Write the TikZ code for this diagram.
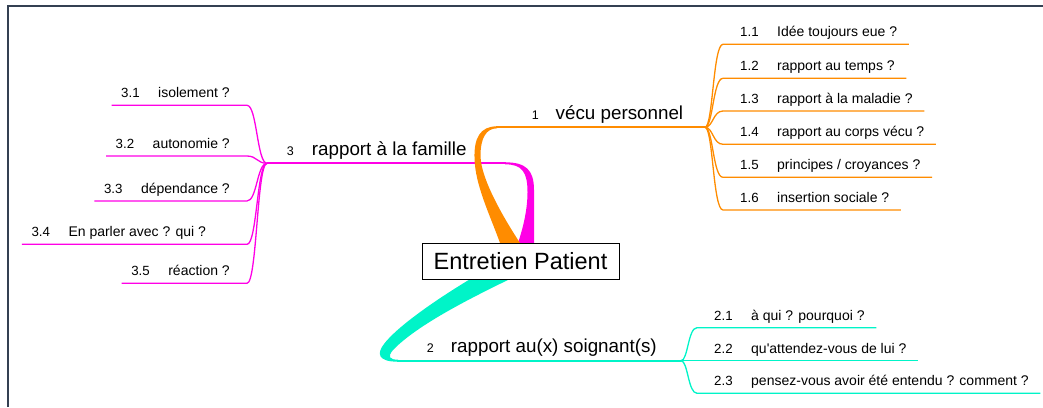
\documentclass[tikz,border=0pt]{standalone}
\usepackage{fontspec}
\setmainfont{Liberation Sans}
\usetikzlibrary{calc}

\definecolor{vecuorange}{RGB}{255,140,0}
\definecolor{famillepink}{RGB}{255,0,230}
\definecolor{soigneteal}{RGB}{0,244,200}
\definecolor{framegray}{RGB}{52,64,82}

\begin{document}
\begin{tikzpicture}[x=1pt, y=-1pt,
    rootbox/.style={draw=black, line width=0.9pt, fill=white, inner sep=0pt,
        minimum width=197pt, minimum height=36pt, font=\fontsize{23.5}{28}\selectfont},
    toplabel/.style={inner sep=0pt, anchor=base west, font=\fontsize{18.8}{22}\selectfont},
    topnum/.style={inner sep=0pt, anchor=base west, font=\fontsize{12.5}{15}\selectfont},
    leaflabel/.style={inner sep=0pt, font=\fontsize{14}{17}\selectfont},
    leafnum/.style={inner sep=0pt, anchor=base west, font=\fontsize{13.3}{16}\selectfont},
    mainline/.style={line width=2pt},
    leafline/.style={line width=1.3pt}]

    \useasboundingbox (0,0) rectangle (1043,407);

    % --- Frame (top and left edges only) ---
    \draw[framegray, line width=1.6pt] (8,407) -- (8,6) -- (1043,6);

    % =========================================================================
    % BRANCH 3: rapport a la famille (left, pink)
    % =========================================================================
    \coordinate (j3) at (267,163.3);
    \node[topnum] (b3num) at (286.7,155.3) {3};
    \node[toplabel] (b3) at (311.7,155.3) {rapport à la famille};
    \draw[famillepink, mainline] (j3) -- (506,163.3);
    \fill[famillepink] (518,243) .. controls (523,228) and (527.5,210) .. (527.5,192)
        .. controls (527.5,172) and (522,164.3) .. (505,164.3) -- (505,162.3)
        .. controls (526,162.3) and (534,170) .. (534,190) -- (534,243) -- cycle;

    % --- Leaves 3.x ---
    \node[leaflabel, anchor=base east] (c31) at (230,97.6) {isolement ?};
    \node[leafnum] (c31num) at ([xshift=-37pt]c31.base west) {3.1};
    \draw[famillepink, leafline] (j3) .. controls (257,163.3) and (257,105.3) .. (247,105.3) -- ([shift={(-9.5pt,-7.7pt)}]c31num.base west);

    \node[leaflabel, anchor=base east] (c32) at (230,148.3) {autonomie ?};
    \node[leafnum] (c32num) at ([xshift=-37pt]c32.base west) {3.2};
    \draw[famillepink, leafline] (j3) .. controls (257,163.3) and (257,156) .. (247,156) -- ([shift={(-9.5pt,-7.7pt)}]c32num.base west);

    \node[leaflabel, anchor=base east] (c33) at (230,193.3) {dépendance ?};
    \node[leafnum] (c33num) at ([xshift=-37pt]c33.base west) {3.3};
    \draw[famillepink, leafline] (j3) .. controls (257,163.3) and (257,201) .. (247,201) -- ([shift={(-9.5pt,-7.7pt)}]c33num.base west);

    \node[leaflabel, anchor=base west] (c34) at (68.3,236.6) {En parler avec ? qui ?};
    \node[leafnum] (c34num) at ([xshift=-37pt]c34.base west) {3.4};
    \draw[famillepink, leafline] (j3) .. controls (257,163.3) and (257,244.3) .. (247,244.3) -- ([shift={(-9.5pt,-7.7pt)}]c34num.base west);

    \node[leaflabel, anchor=base east] (c35) at (230,275.6) {réaction ?};
    \node[leafnum] (c35num) at ([xshift=-37pt]c35.base west) {3.5};
    \draw[famillepink, leafline] (j3) .. controls (257,163.3) and (257,283.3) .. (247,283.3) -- ([shift={(-9.5pt,-7.7pt)}]c35num.base west);

    % =========================================================================
    % BRANCH 1: vecu personnel (top right, orange)
    % =========================================================================
    \coordinate (j1) at (705,127.3);
    \node[topnum] (b1num) at (531.7,119.5) {1};
    \node[toplabel] (b1) at (555.5,119.5) {vécu personnel};
    \fill[vecuorange] (500,243) .. controls (490,215) and (475,185) .. (474.5,158)
        .. controls (474,138) and (480,126.3) .. (497,126.3) -- (497,128.3)
        .. controls (486,128.5) and (480.5,138) .. (480.5,156)
        .. controls (481,180) and (505,220) .. (520,243) -- cycle;
    \draw[vecuorange, mainline] (496,127.3) -- (j1);

    % --- Leaves 1.x ---
    \node[leafnum] (c11num) at (740,36.6) {1.1};
    \node[leaflabel, anchor=base west] (c11) at (777,36.6) {Idée toujours eue ?};
    \draw[vecuorange, leafline] (j1) .. controls (713,127.3) and (713,44.3) .. (723,44.3) -- ([shift={(11.5pt,-7.7pt)}]c11.base east);

    \node[leafnum] (c12num) at (740,70.6) {1.2};
    \node[leaflabel, anchor=base west] (c12) at (777,70.6) {rapport au temps ?};
    \draw[vecuorange, leafline] (j1) .. controls (713,127.3) and (713,78.3) .. (723,78.3) -- ([shift={(11.5pt,-7.7pt)}]c12.base east);

    \node[leafnum] (c13num) at (740,103.3) {1.3};
    \node[leaflabel, anchor=base west] (c13) at (777,103.3) {rapport à la maladie ?};
    \draw[vecuorange, leafline] (j1) .. controls (713,127.3) and (713,111) .. (723,111) -- ([shift={(11.5pt,-7.7pt)}]c13.base east);

    \node[leafnum] (c14num) at (740,136.6) {1.4};
    \node[leaflabel, anchor=base west] (c14) at (777,136.6) {rapport au corps vécu ?};
    \draw[vecuorange, leafline] (j1) .. controls (713,127.3) and (713,144.3) .. (723,144.3) -- ([shift={(11.5pt,-7.7pt)}]c14.base east);

    \node[leafnum] (c15num) at (740,169.6) {1.5};
    \node[leaflabel, anchor=base west] (c15) at (777,169.6) {principes / croyances ?};
    \draw[vecuorange, leafline] (j1) .. controls (713,127.3) and (713,177.3) .. (723,177.3) -- ([shift={(11.5pt,-7.7pt)}]c15.base east);

    \node[leafnum] (c16num) at (740,202.3) {1.6};
    \node[leaflabel, anchor=base west] (c16) at (777,202.3) {insertion sociale ?};
    \draw[vecuorange, leafline] (j1) .. controls (713,127.3) and (713,210) .. (723,210) -- ([shift={(11.5pt,-7.7pt)}]c16.base east);

    % =========================================================================
    % BRANCH 2: rapport au(x) soignant(s) (bottom, teal)
    % =========================================================================
    \coordinate (j2) at (681,360.7);
    \node[topnum] (b2num) at (426.7,352.7) {2};
    \node[toplabel] (b2) at (450.7,352.7) {rapport au(x) soignant(s)};
    \fill[soigneteal] (472,278) .. controls (432,302) and (396,328) .. (384,344)
        .. controls (377,353) and (377,361.7) .. (398,361.7) -- (398,359.7)
        .. controls (390,359.7) and (387,357) .. (393,350)
        .. controls (418,324) and (475,296) .. (512,278) -- cycle;
    \draw[soigneteal, mainline] (397,360.7) -- (j2);

    % --- Leaves 2.x ---
    \node[leafnum] (c21num) at (714,320) {2.1};
    \node[leaflabel, anchor=base west] (c21) at (751,320) {à qui ? pourquoi ?};
    \draw[soigneteal, leafline] (j2) .. controls (688,360.7) and (688,327.7) .. (697,327.7) -- ([shift={(11.5pt,-7.7pt)}]c21.base east);

    \node[leafnum] (c22num) at (714,353) {2.2};
    \node[leaflabel, anchor=base west] (c22) at (751,353) {qu\textquotesingle attendez-vous de lui ?};
    \draw[soigneteal, leafline] (j2) -- ([shift={(11.5pt,-7.7pt)}]c22.base east);

    \node[leafnum] (c23num) at (714,385.6) {2.3};
    \node[leaflabel, anchor=base west] (c23) at (751,385.6) {pensez-vous avoir été entendu ? comment ?};
    \draw[soigneteal, leafline] (j2) .. controls (688,360.7) and (688,393.3) .. (697,393.3) -- ([shift={(11.5pt,-7.7pt)}]c23.base east);

    % --- Central topic, on top of the branch roots ---
    \node[rootbox] (root) at (520.5,261) {Entretien Patient};

\end{tikzpicture}
\end{document}
